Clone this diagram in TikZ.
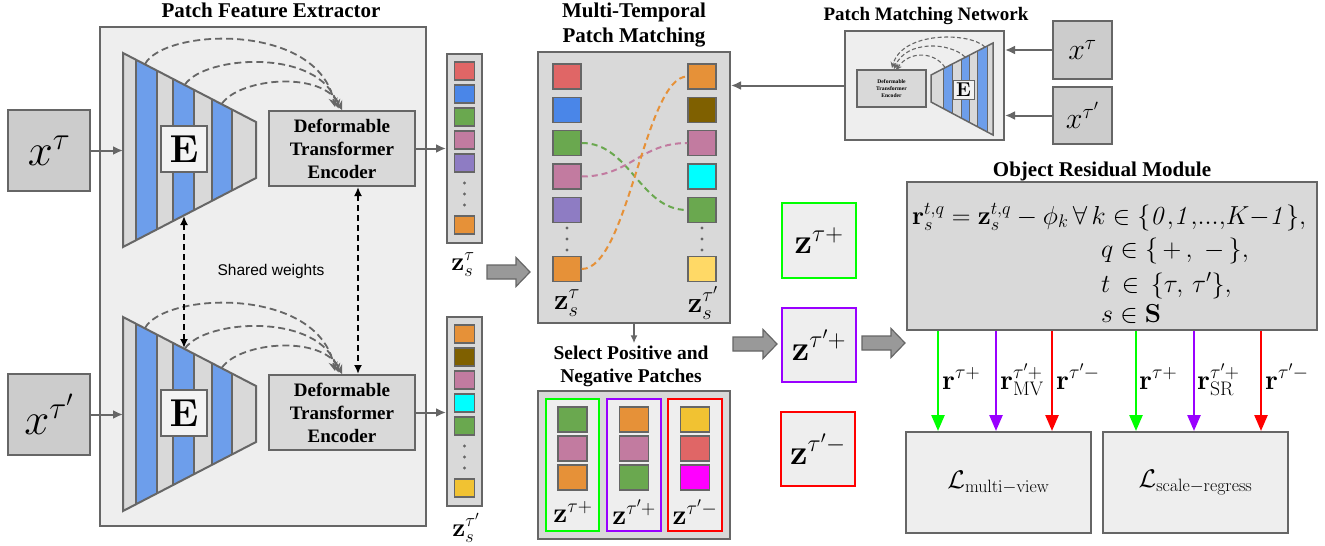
\RequirePackage{fix-cm}
\documentclass[tikz,border=0pt]{standalone}
\usepackage[no-math]{fontspec}
\newfontfamily\tnr{Liberation Serif}
\newfontfamily\arial{Liberation Sans}
\usetikzlibrary{arrows.meta,calc}
\definecolor{edge}{HTML}{666666}
\definecolor{gA}{HTML}{D9D9D9}
\definecolor{gB}{HTML}{EEEEEE}
\definecolor{gC}{HTML}{CCCCCC}
\definecolor{eboxfill}{HTML}{F3F3F3}
\definecolor{bl}{HTML}{6D9EEB}
\definecolor{pred}{HTML}{E06666}
\definecolor{pblue}{HTML}{4A86E8}
\definecolor{pgreen}{HTML}{6AA84F}
\definecolor{ppink}{HTML}{C27BA0}
\definecolor{ppurple}{HTML}{8E7CC3}
\definecolor{porange}{HTML}{E69138}
\definecolor{pbrown}{HTML}{7F6000}
\definecolor{pcyan}{HTML}{00FFFF}
\definecolor{pyellow}{HTML}{FFD966}
\definecolor{pgold}{HTML}{F1C232}
\definecolor{pmag}{HTML}{FF00FF}
\definecolor{cgreen}{HTML}{00FF00}
\definecolor{cpurple}{HTML}{9900FF}
\definecolor{cred}{HTML}{FF0000}
\definecolor{blockfill}{HTML}{999999}

\newcommand{\bigenc}[2]{%
\begin{scope}[shift={(0,#2)}]
  \begin{scope}
    \clip (123,53) -- (256,122) -- (256,178) -- (123,247) -- cycle;
    \fill[gA] (118,48) rectangle (260,252);
    \foreach \a/\b in {136/157,173/194,212/232}{\fill[bl] (\a,48) rectangle (\b,252);}
    \foreach \a in {136,157,173,194,212,232}{\draw[edge,line width=1.6pt] (\a,48) -- (\a,252);}
  \end{scope}
  \draw[edge,line width=2pt] (123,53) -- (256,122) -- (256,178) -- (123,247) -- cycle;
  \node[ebox] (E#1) at (184,149) {$\mathbf{E}$};
  \node[box,fill=gA,minimum width=146pt,minimum height=75pt,dtetext] (dte#1) at (342,148.5) {Deformable\\Transformer\\Encoder};
  \coordinate (sa#1) at (145,64);
  \coordinate (sb#1) at (185,84.5);
  \coordinate (sc#1) at (222,103.5);
  \coordinate (ea#1) at (335,107);
  \coordinate (eb#1) at (338.5,108.5);
  \coordinate (ec#1) at (342,110);
  \draw[arcd] (sa#1) .. controls (165,28) and (318,22) .. (ea#1);
  \draw[arcd] (sb#1) .. controls (205,55) and (320,48) .. (eb#1);
  \draw[arcd] (sc#1) .. controls (240,78) and (323,70) .. (ec#1);
\end{scope}}

\newcommand{\blockarrow}[4]{% name, x1, x2, y
  \fill[blockfill,draw=edge,line width=1.2pt] ({#2},{#4-7}) -- ({#3-14},{#4-7}) -- ({#3-14},{#4-14.5}) -- ({#3},{#4}) -- ({#3-14},{#4+14.5}) -- ({#3-14},{#4+7}) -- ({#2},{#4+7}) -- cycle;
  \coordinate (#1) at ({(#2+#3)/2},{#4});}

\begin{document}
\begin{tikzpicture}[x=1pt,y=-1pt,
  box/.style={draw=edge,line width=2pt,inner sep=0pt},
  ttl/.style={font=\tnr\bfseries\fontsize{21}{25}\selectfont,align=center,inner sep=0pt},
  dtetext/.style={font=\tnr\bfseries\fontsize{19}{23}\selectfont,align=center},
  patch/.style={draw=edge,line width=1.2pt,inner sep=0pt,minimum width=20pt,minimum height=18pt},
  mpatch/.style={draw=edge,line width=1.5pt,inner sep=0pt,minimum width=28pt,minimum height=25pt},
  spatch/.style={draw=edge,line width=1.5pt,inner sep=0pt,minimum width=29pt,minimum height=25pt},
  conn/.style={draw=edge,line width=2pt,-{Latex[length=10pt,width=9pt]}},
  arcd/.style={draw=edge,line width=1.8pt,dash pattern=on 7pt off 4pt,-{Stealth[length=9pt,width=9pt]}},
  arcs/.style={draw=edge,line width=1.1pt,dash pattern=on 4pt off 2.5pt,-{Stealth[length=6pt,width=6pt]}},
  shared/.style={draw=black,line width=2pt,dash pattern=on 6pt off 4pt,{Latex[length=9pt,width=8pt]}-{Latex[length=9pt,width=8pt]}},
  match/.style={line width=2pt,dash pattern=on 6pt off 4pt},
  resid/.style={line width=2.5pt,-{Triangle[length=16pt,width=13pt]}},
  ebox/.style={draw=edge,line width=1.2pt,fill=eboxfill,inner sep=0pt,minimum width=46pt,minimum height=46pt,font=\fontsize{39}{39}\selectfont},
  dot/.style={circle,fill=edge,inner sep=0pt,minimum size=3.2pt},
  lab/.style={inner sep=0pt},
  eqf/.style={inner sep=0pt,anchor=base west,font=\fontsize{26}{26}\selectfont},
  rlab/.style={inner sep=0pt,anchor=base west,font=\fontsize{28}{28}\selectfont},
]
\useasboundingbox (0,0) rectangle (1325,546);
\fill[white] (0,0) rectangle (1325,546);

% ---------------- Patch Feature Extractor ----------------
\node[ttl,anchor=base] (pfetitle) at (271,17) {Patch Feature Extractor};
\node[box,fill=gB,minimum width=326pt,minimum height=499pt] (pfe) at (263,276.5) {};
\node[box,fill=gC,minimum width=82pt,minimum height=81pt,font=\fontsize{45}{45}\selectfont] (xt) at (49,150.5) {$x^{\tau}$};
\node[box,fill=gC,minimum width=82pt,minimum height=81pt,font=\fontsize{45}{45}\selectfont] (xtp) at (49,414.5) {$x^{\tau'}$};
\bigenc{1}{0}
\bigenc{2}{264}
\coordinate (in1) at (123,150.5);
\coordinate (in2) at (123,414.5);
\draw[conn] (xt) -- (in1);
\draw[conn] (xtp) -- (in2);
\coordinate (sw1) at (184,216);
\coordinate (sw2) at (184,348);
\draw[shared] (sw1) -- (sw2);
\draw[shared] ($(dte1.south)+(16,0)$) -- ($(dte2.north)+(16,0)$);
\node[font=\arial\fontsize{15.5}{18}\selectfont] (sharedtxt) at (271,271) {Shared weights};

% ---------------- feature vectors ----------------
\node[box,fill=gA,minimum width=35pt,minimum height=189pt] (vec1) at (464.5,148.5) {};
\foreach \y/\c/\n in {71/pred/1,94/pblue/2,117/pgreen/3,140/ppink/4,163/ppurple/5,225/porange/6}
  {\node[patch,fill=\c] (va\n) at (464.5,\y) {};}
\foreach \y/\n in {183/1,194/2,205/3}{\node[dot] (vad\n) at (464.5,\y) {};}
\node[box,fill=gA,minimum width=35pt,minimum height=189pt] (vec2) at (464.5,411.5) {};
\foreach \y/\c/\n in {334/porange/1,357/pbrown/2,380/ppink/3,403/pcyan/4,426/pgreen/5,488/pgold/6}
  {\node[patch,fill=\c] (vb\n) at (464.5,\y) {};}
\foreach \y/\n in {446/1,457/2,468/3}{\node[dot] (vbd\n) at (464.5,\y) {};}
\draw[conn] (dte1) -- (dte1 -| vec1.west);
\draw[conn] (dte2) -- (dte2 -| vec2.west);
\node[lab,font=\fontsize{26}{26}\selectfont] (zl1) at (463,265) {$\mathbf{z}_s^{\tau}$};
\node[lab,font=\fontsize{26}{26}\selectfont] (zl2) at (466,528) {$\mathbf{z}_s^{\tau'}$};

\blockarrow{ba1}{487}{530}{272}

% ---------------- Multi-Temporal Patch Matching ----------------
\node[ttl,anchor=base] (mttitle) at (634,17) {Multi-Temporal};
\node[ttl,anchor=base] (mttitle2) at (634,42) {Patch Matching};
\node[box,fill=gA,minimum width=192pt,minimum height=271pt] (mtpm) at (634,187.5) {};
\foreach \y/\c/\n in {76.5/pred/1,110/pblue/2,143/pgreen/3,176.5/ppink/4,210/ppurple/5,269/porange/6}
  {\node[mpatch,fill=\c] (L\n) at (567,\y) {};}
\foreach \y/\c/\n in {76.5/porange/1,110/pbrown/2,143/ppink/3,176.5/pcyan/4,210/pgreen/5,269/pyellow/6}
  {\node[mpatch,fill=\c] (R\n) at (702,\y) {};}
\foreach \y/\n in {228/1,239/2,250/3}{\node[dot] (ld\n) at (567,\y) {}; \node[dot] (rd\n) at (702,\y) {};}
\draw[match,draw=pgreen] (L3.east) .. controls (630,143) and (640,210) .. (R5.west);
\draw[match,draw=ppink] (L4.east) .. controls (630,176.5) and (640,143) .. (R3.west);
\draw[match,draw=porange] (L6.east) .. controls (628,269) and (645,76.5) .. (R1.west);
\node[lab,font=\fontsize{29}{29}\selectfont] (ml1) at (567,303) {$\mathbf{z}_s^{\tau}$};
\node[lab,font=\fontsize{29}{29}\selectfont] (ml2) at (703,303) {$\mathbf{z}_s^{\tau'}$};

% ---------------- Patch Matching Network ----------------
\node[ttl,anchor=base,font=\tnr\bfseries\fontsize{19}{23}\selectfont] (pmntitle) at (926,20) {Patch Matching Network};
\node[box,fill=gB,minimum width=159pt,minimum height=109pt] (pmn) at (924.5,85.5) {};
\begin{scope}
  \clip (931,75) -- (993,43) -- (993,135) -- (931,102) -- cycle;
  \fill[gA] (925,38) rectangle (1000,140);
  \foreach \a/\b in {943/952,961/969,977/987}{\fill[bl] (\a,38) rectangle (\b,140);}
  \foreach \a in {943,952,961,969,977,987}{\draw[edge,line width=1pt] (\a,38) -- (\a,140);}
\end{scope}
\draw[edge,line width=1.5pt] (931,75) -- (993,43) -- (993,135) -- (931,102) -- cycle;
\node[draw=edge,line width=0.8pt,fill=eboxfill,inner sep=0pt,minimum width=21pt,minimum height=19pt,font=\fontsize{20}{20}\selectfont] (Es) at (963.5,89.5) {$\mathbf{E}$};
\node[draw=edge,line width=1.5pt,fill=gA,inner sep=0pt,minimum width=69pt,minimum height=37pt,font=\tnr\bfseries\fontsize{5.6}{7}\selectfont,align=center] (dtes) at (891.5,88.5) {Deformable\\Transformer\\Encoder};
\coordinate (ssa) at (945,67.5);
\coordinate (ssb) at (965,57);
\coordinate (ssc) at (985,47);
\coordinate (sea) at (896,70);
\coordinate (seb) at (894,69);
\coordinate (sec) at (892,68);
\draw[arcs] (ssa) .. controls (935,52) and (910,50) .. (sea);
\draw[arcs] (ssb) .. controls (950,42) and (906,40) .. (seb);
\draw[arcs] (ssc) .. controls (970,32) and (902,31) .. (sec);
\node[box,fill=gC,minimum width=59pt,minimum height=58pt,font=\fontsize{30}{30}\selectfont] (xs1) at (1082.5,50) {$x^{\tau}$};
\node[box,fill=gC,minimum width=59pt,minimum height=57pt,font=\fontsize{30}{30}\selectfont] (xs2) at (1082.5,115.5) {$x^{\tau'}$};
\draw[conn] (xs1) -- (xs1 -| pmn.east);
\draw[conn] (xs2) -- (xs2 -| pmn.east);
\draw[conn] (pmn) -- (pmn -| mtpm.east);

% ---------------- Select Positive and Negative Patches ----------------
\node[ttl,anchor=base,font=\tnr\bfseries\fontsize{19.5}{23}\selectfont] (sptitle) at (631,359) {Select Positive and};
\node[ttl,anchor=base,font=\tnr\bfseries\fontsize{19.5}{23}\selectfont] (sptitle2) at (631,382) {Negative Patches};
\draw[conn,line width=1.5pt,-{Latex[length=8pt,width=7pt]}] (mtpm.south) -- ($(sptitle.north)+(3,-2)$);
\node[box,fill=gA,minimum width=192pt,minimum height=148pt] (spnp) at (634,465) {};
\node[draw=cgreen,line width=2pt,fill=gB,minimum width=53pt,minimum height=132pt] (colg) at (572.5,465) {};
\node[draw=cpurple,line width=2pt,fill=gB,minimum width=54pt,minimum height=132pt] (colp) at (634,465) {};
\node[draw=cred,line width=2pt,fill=gB,minimum width=54pt,minimum height=132pt] (colr) at (695,465) {};
\foreach \y/\c/\n in {419.5/pgreen/1,448.5/ppink/2,477.5/porange/3}{\node[spatch,fill=\c] (sg\n) at (572.5,\y) {};}
\foreach \y/\c/\n in {419.5/porange/1,448.5/ppink/2,477.5/pgreen/3}{\node[spatch,fill=\c] (sp\n) at (634,\y) {};}
\foreach \y/\c/\n in {419.5/pgold/1,448.5/pred/2,477.5/pmag/3}{\node[spatch,fill=\c] (sr\n) at (695,\y) {};}
\node[lab,font=\fontsize{28}{28}\selectfont] (sgl) at (573,512) {$\mathbf{z}^{\tau+}$};
\node[lab,font=\fontsize{28}{28}\selectfont] (spl) at (634,512) {$\mathbf{z}^{\tau'+}$};
\node[lab,font=\fontsize{28}{28}\selectfont] (srl) at (695,512) {$\mathbf{z}^{\tau'-}$};

% ---------------- selected z boxes ----------------
\node[draw=cgreen,line width=2.5pt,fill=gB,minimum width=74pt,minimum height=75pt,inner sep=0pt,font=\fontsize{35}{35}\selectfont] (zg) at (819,240.5) {$\mathbf{z}^{\tau+}$};
\node[draw=cpurple,line width=2.5pt,fill=gB,minimum width=74pt,minimum height=74pt,inner sep=0pt,font=\fontsize{35}{35}\selectfont] (zp) at (819,345) {$\mathbf{z}^{\tau'+}$};
\node[draw=cred,line width=2.5pt,fill=gB,minimum width=74pt,minimum height=74pt,inner sep=0pt,font=\fontsize{35}{35}\selectfont] (zr) at (818,449) {$\mathbf{z}^{\tau'-}$};
\blockarrow{ba2}{733}{777}{344}
\blockarrow{ba3}{862}{905}{343}

% ---------------- Object Residual Module ----------------
\node[ttl,anchor=base] (ormtitle) at (1102,176) {Object Residual Module};
\node[box,fill=gA,minimum width=410pt,minimum height=148pt] (orm) at (1112,256) {};
\node[eqf] (eq1) at (912,224) {$\mathbf{r}_s^{t,q} = \mathbf{z}_s^{t,q} - \phi_k\,\forall\,k \in \{\mathit{0},\!\mathit{1},\!\mathit{...},\!K{-}\mathit{1}\},$};
\node[eqf] (eq2) at (1101,257) {$q \in \{\,+\,,\;-\,\},$};
\node[eqf] (eq3) at (1101,292) {$t \,\in\, \{\tau,\,\tau'\},$};
\node[eqf] (eq4) at (1101,322) {$s \in \mathbf{S}$};

% ---------------- losses ----------------
\node[box,fill=gB,minimum width=185pt,minimum height=101pt,font=\fontsize{25.5}{25.5}\selectfont] (lmv) at (998.5,482.5) {$\mathcal{L}_{\mathrm{multi}-\mathrm{view}}$};
\node[box,fill=gB,minimum width=185pt,minimum height=101pt,font=\fontsize{25.5}{25.5}\selectfont] (lsr) at (1195.5,482.5) {$\mathcal{L}_{\mathrm{scale}-\mathrm{regress}}$};
\coordinate (ga) at (938,0);
\coordinate (pa) at (996,0);
\coordinate (ra) at (1052,0);
\coordinate (gb) at (1136,0);
\coordinate (pb) at (1194,0);
\coordinate (rb) at (1261,0);
\draw[resid,draw=cgreen,fill=cgreen] (orm.south -| ga) -- (lmv.north -| ga);
\draw[resid,draw=cpurple,fill=cpurple] (orm.south -| pa) -- (lmv.north -| pa);
\draw[resid,draw=cred,fill=cred] (orm.south -| ra) -- (lmv.north -| ra);
\draw[resid,draw=cgreen,fill=cgreen] (orm.south -| gb) -- (lsr.north -| gb);
\draw[resid,draw=cpurple,fill=cpurple] (orm.south -| pb) -- (lsr.north -| pb);
\draw[resid,draw=cred,fill=cred] (orm.south -| rb) -- (lsr.north -| rb);
\node[rlab] (rl1) at (942,389) {$\mathbf{r}^{\tau+}$};
\node[rlab] (rl2) at (1000,389) {$\mathbf{r}^{\tau'+}_{\mathrm{MV}}$};
\node[rlab] (rl3) at (1056,389) {$\mathbf{r}^{\tau'-}$};
\node[rlab] (rl4) at (1139,389) {$\mathbf{r}^{\tau+}$};
\node[rlab] (rl5) at (1197,389) {$\mathbf{r}^{\tau'+}_{\mathrm{SR}}$};
\node[rlab] (rl6) at (1265,389) {$\mathbf{r}^{\tau'-}$};
\end{tikzpicture}
\end{document}
